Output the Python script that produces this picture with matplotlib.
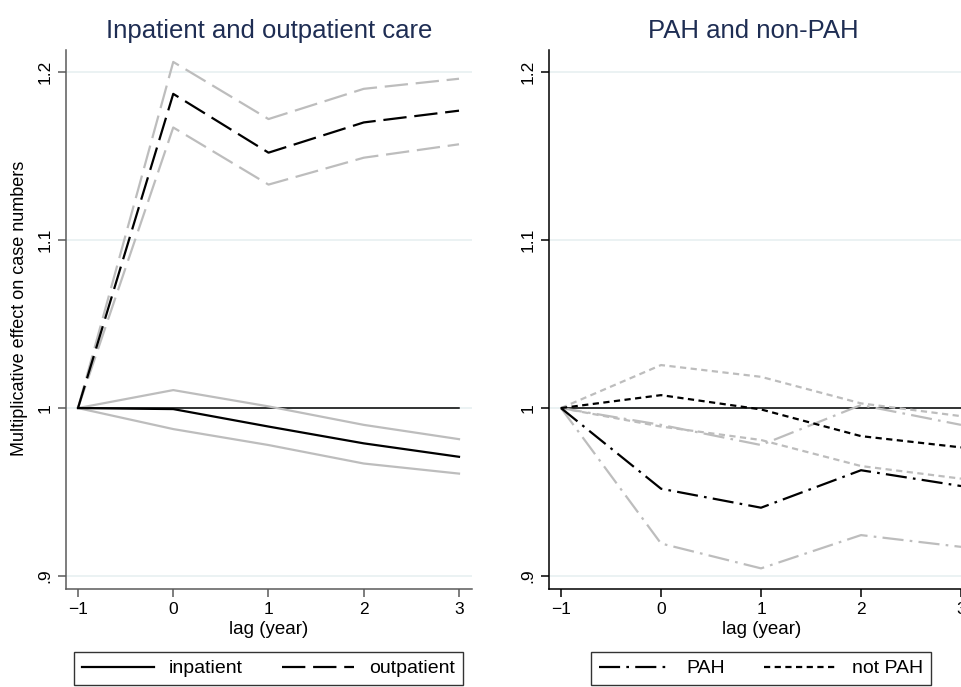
import numpy as np
import matplotlib
matplotlib.use("Agg")
import matplotlib.pyplot as plt

plt.rcParams['font.family'] = ['Liberation Sans', 'DejaVu Sans']

lags = [-1, 0, 1, 2, 3]

# left panel: inpatient / outpatient
inpatient = [1.0, 0.9994, 0.989, 0.979, 0.971]
inpatient_hi = [1.0, 1.0107, 1.001, 0.990, 0.9815]
inpatient_lo = [1.0, 0.9875, 0.978, 0.967, 0.961]
outpatient = [1.0, 1.187, 1.152, 1.170, 1.177]
outpatient_hi = [1.0, 1.206, 1.172, 1.190, 1.196]
outpatient_lo = [1.0, 1.167, 1.133, 1.149, 1.157]

# right panel: PAH / not PAH
pah = [1.0, 0.952, 0.9407, 0.963, 0.9536]
pah_hi = [1.0, 0.990, 0.978, 1.0018, 0.990]
pah_lo = [1.0, 0.9194, 0.9046, 0.9244, 0.9174]
notpah = [1.0, 1.0077, 0.9992, 0.9833, 0.9766]
notpah_hi = [1.0, 1.0256, 1.0186, 1.0028, 0.9952]
notpah_lo = [1.0, 0.989, 0.981, 0.9655, 0.958]

yticks = [0.9, 1.0, 1.1, 1.2]
ytick_labels = [".9", "1", "1.1", "1.2"]

gray = "#bdbdbd"
title_col = "#1e2d53"
grid_col = "#e8f0f1"

long_dash = (10.5, 3.5)
short_dash = (2.8, 2.0)
dash_dot = (9.5, 2.8, 1.2, 2.8)

fig = plt.figure(figsize=(9.62, 6.87), dpi=100)
ax1 = fig.add_axes([0.0686, 0.1426, 0.422, 0.7846])
ax2 = fig.add_axes([0.5707, 0.1426, 0.4418, 0.7846])

def style(ax, spine_col):
    ax.set_ylim(0.8923, 1.2131)
    ax.set_yticks(yticks)
    ax.set_yticklabels(ytick_labels, rotation=90, va="center")
    ax.set_xticks(lags)
    for y in yticks:
        ax.axhline(y, color=grid_col, lw=1.2, zorder=0)
    ax.plot([-1, 3], [1, 1], color="black", lw=1.1, zorder=1)
    for s in ["top", "right"]:
        ax.spines[s].set_visible(False)
    for s in ["left", "bottom"]:
        ax.spines[s].set_color(spine_col)
        ax.spines[s].set_linewidth(1.1)
    ax.tick_params(axis="both", labelsize=12.5, length=6, color=spine_col, width=1.1)
    ax.set_xlabel("lag (year)", fontsize=13.5, labelpad=2.5)

def add_legend(ax, handles):
    leg = ax.legend(handles=handles, ncol=2, loc="upper center", bbox_to_anchor=(0.499, -0.117),
                    borderaxespad=0, fontsize=14, frameon=True, fancybox=False, edgecolor="black",
                    handlelength=3.7, handletextpad=0.8, columnspacing=2.0, borderpad=0.4)
    leg.get_frame().set_linewidth(1.0)
    return leg

style(ax1, "#5a5a5a")
ax1.set_xlim(-1.126, 3.136)
ax1.plot(lags, inpatient_hi, color=gray, lw=1.6)
ax1.plot(lags, inpatient_lo, color=gray, lw=1.6)
ax1.plot(lags, outpatient_hi, color=gray, lw=1.6, dashes=long_dash)
ax1.plot(lags, outpatient_lo, color=gray, lw=1.6, dashes=long_dash)
l1, = ax1.plot(lags, inpatient, color="black", lw=1.6, label="inpatient")
l2, = ax1.plot(lags, outpatient, color="black", lw=1.6, dashes=long_dash, label="outpatient")
ax1.set_title("Inpatient and outpatient care", fontsize=18.5, color=title_col, pad=9)
ax1.set_ylabel("Multiplicative effect on case numbers", fontsize=13)
ax1.yaxis.set_label_coords(-0.094, 0.521)
add_legend(ax1, [l1, l2])

style(ax2, "black")
ax2.set_xlim(-1.12, 3.13)
ax2.plot(lags, notpah_hi, color=gray, lw=1.6, dashes=short_dash)
ax2.plot(lags, notpah_lo, color=gray, lw=1.6, dashes=short_dash)
ax2.plot(lags, pah_hi, color=gray, lw=1.6, dashes=dash_dot)
ax2.plot(lags, pah_lo, color=gray, lw=1.6, dashes=dash_dot)
l3, = ax2.plot(lags, pah, color="black", lw=1.6, dashes=dash_dot, label="PAH")
l4, = ax2.plot(lags, notpah, color="black", lw=1.6, dashes=short_dash, label="not PAH")
ax2.set_title("PAH and non-PAH", fontsize=18.5, color=title_col, pad=9)
ax2.title.set_position((0.48, 1.0))
add_legend(ax2, [l3, l4])

fig.savefig("out.png", dpi=100)
